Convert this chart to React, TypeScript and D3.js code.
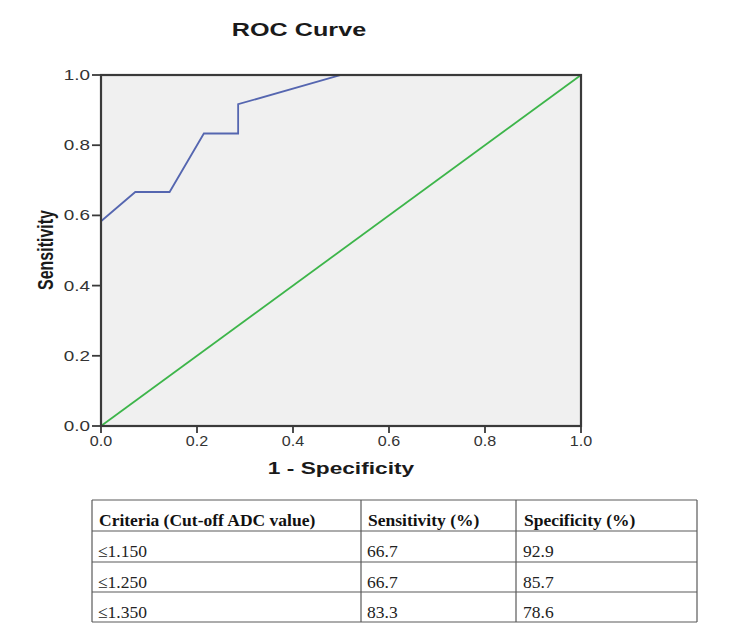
import React from "react";
import * as d3 from "d3";

const rocFpr = [0, 0.0714, 0.1429, 0.2143, 0.2857, 0.2857, 0.5, 1.0];
const rocTpr = [0.5833, 0.6667, 0.6667, 0.8333, 0.8333, 0.9167, 1.0, 1.0];
const refLine = [0, 1];
const tickValues = [0, 0.2, 0.4, 0.6, 0.8, 1.0];

const tableHeader = ["Criteria (Cut-off ADC value)", "Sensitivity (%)", "Specificity (%)"];
const cutoffs = ["\u22641.150", "\u22641.250", "\u22641.350"];
const sensValues = ["66.7", "66.7", "83.3"];
const specValues = ["92.9", "85.7", "78.6"];

const SANS = "Liberation Sans, Arial";
const SERIF = "Liberation Serif, Times New Roman";

export default function App() {
  const W = 750, H = 638;
  const x = d3.scaleLinear().domain([0, 1]).range([101, 581]);
  const y = d3.scaleLinear().domain([0, 1]).range([426, 75]);
  const pts = rocFpr.map((f, i) => [f, rocTpr[i]] as [number, number]);
  const line = d3.line<[number, number]>().x(d => x(d[0])).y(d => y(d[1]));
  const diag = line(refLine.map(v => [v, v] as [number, number]));

  const colX = [92, 361, 516, 697];
  const rowY = [500, 531, 562, 592, 622];
  const rows = cutoffs.map((c, i) => [c, sensValues[i], specValues[i]]);
  const textOff = [7, 7, 8];

  return (
    <svg width={W} height={H} style={{ position: "absolute", left: 0, top: 0, background: "#fff" }}>
      <rect x={0} y={0} width={W} height={H} fill="#fff" />
      <text transform="translate(299,36) scale(1.4,1)" textAnchor="middle" fontFamily={SANS} fontWeight="bold" fontSize={18} fill="#1a1a1a">ROC Curve</text>
      <rect x={x(0)} y={y(1)} width={x(1) - x(0)} height={y(0) - y(1)} fill="#f0f0f0" />
      <path d={diag || ""} fill="none" stroke="#3db54a" strokeWidth={1.8} />
      <path d={line(pts) || ""} fill="none" stroke="#5566b0" strokeWidth={1.8} />
      <rect x={x(0)} y={y(1)} width={x(1) - x(0)} height={y(0) - y(1)} fill="none" stroke="#3a3a3a" strokeWidth={2.2} />
      {tickValues.map(t => (
        <g key={"y" + t}>
          <line x1={x(0) - 9} x2={x(0)} y1={y(t)} y2={y(t)} stroke="#3a3a3a" strokeWidth={1.8} />
          <text transform={`translate(${x(0) - 11},${y(t) + 5}) scale(1.35,1)`} textAnchor="end" fontFamily={SANS} fontSize={14} fill="#333">{t.toFixed(1)}</text>
        </g>
      ))}
      {tickValues.map(t => (
        <g key={"x" + t}>
          <line x1={x(t)} x2={x(t)} y1={y(0)} y2={y(0) + 7} stroke="#3a3a3a" strokeWidth={1.8} />
          <text transform={`translate(${x(t)},${y(0) + 20}) scale(1.15,1)`} textAnchor="middle" fontFamily={SANS} fontSize={14} fill="#333">{t.toFixed(1)}</text>
        </g>
      ))}
      <text transform="translate(341,474) scale(1.42,1)" textAnchor="middle" fontFamily={SANS} fontWeight="bold" fontSize={16} fill="#1a1a1a">1 - Specificity</text>
      <text transform="translate(53,250) scale(1.35,1) rotate(-90)" textAnchor="middle" fontFamily={SANS} fontWeight="bold" fontSize={16} fill="#1a1a1a">Sensitivity</text>

      {rowY.map((ry, i) => (
        <line key={"r" + i} x1={colX[0]} x2={colX[3]} y1={ry} y2={ry} stroke="#5a5a5a" strokeWidth={1.2} />
      ))}
      {colX.map((cx, i) => (
        <line key={"c" + i} x1={cx} x2={cx} y1={rowY[0]} y2={rowY[4]} stroke="#5a5a5a" strokeWidth={1.2} />
      ))}
      {tableHeader.map((h, j) => (
        <text key={"h" + j} x={colX[j] + textOff[j]} y={rowY[0] + 26} fontFamily={SERIF} fontWeight="bold" fontSize={17.5} fill="#111">{h}</text>
      ))}
      {rows.map((r, i) => r.map((v, j) => (
        <text key={"t" + i + j} x={colX[j] + textOff[j] - 1} y={rowY[i + 1] + 26} fontFamily={SERIF} fontSize={17.5} fill="#222">{v}</text>
      )))}
    </svg>
  );
}
